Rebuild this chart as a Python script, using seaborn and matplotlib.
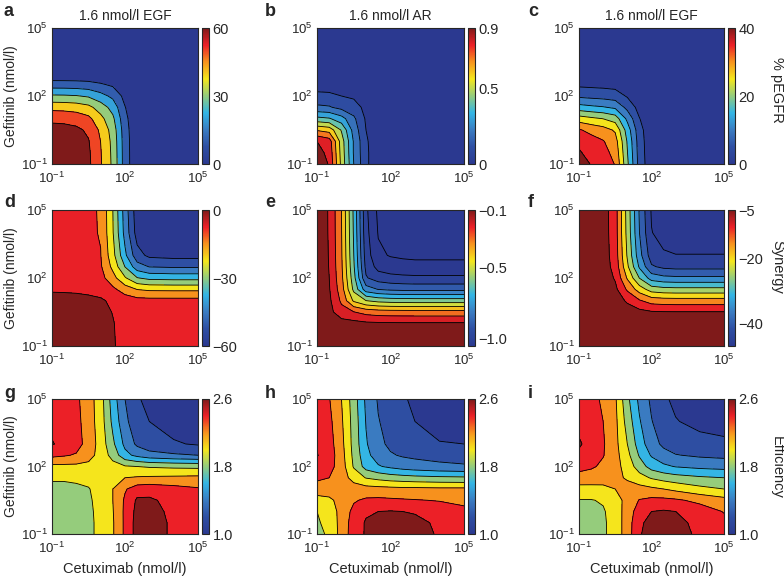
import numpy as np
import matplotlib
matplotlib.use("Agg")
import matplotlib.pyplot as plt
import matplotlib.colors as mcolors
import seaborn as sns

# log10 of the concentrations (nmol/l) at the grid nodes
log_cetuximab = [-1, -0.5, 0, 0.5, 1, 1.5, 2, 2.5, 3, 4, 5]
log_gefitinib = [-1, -0.5, 0, 0.5, 1, 1.5, 2, 2.5, 3, 4, 5]

# values: rows = gefitinib (low -> high), cols = cetuximab (low -> high)
a_pegfr = [
    [68, 67.5, 66, 62, 51, 38, 15, 2, 0, 0, 0],
    [67.5, 67, 65.5, 61.6, 50.6, 37.7, 14.9, 2, 0, 0, 0],
    [66.5, 66, 64.5, 60.6, 49.9, 37.2, 14.7, 2, 0, 0, 0],
    [64, 63.5, 62.1, 58.3, 48, 35.8, 14.1, 1.9, 0, 0, 0],
    [57.5, 57.1, 55.8, 52.5, 43.1, 32.1, 12.7, 1.7, 0, 0, 0],
    [47, 46.6, 45.6, 42.8, 35.2, 26.3, 10.4, 1.4, 0, 0, 0],
    [31.5, 31.3, 30.6, 28.7, 23.6, 17.6, 6.9, 0.9, 0, 0, 0],
    [15, 14.9, 14.6, 13.7, 11.3, 8.4, 3.3, 0.4, 0, 0, 0],
    [1, 1, 1, 0.9, 0.8, 0.6, 0.2, 0, 0, 0, 0],
    [0, 0, 0, 0, 0, 0, 0, 0, 0, 0, 0],
    [0, 0, 0, 0, 0, 0, 0, 0, 0, 0, 0],
]
b_pegfr = [
    [0.98, 0.89, 0.57, 0.30, 0.12, 0.03, 0, 0, 0, 0, 0],
    [0.94, 0.87, 0.56, 0.29, 0.12, 0.03, 0, 0, 0, 0, 0],
    [0.90, 0.85, 0.55, 0.29, 0.115, 0.03, 0, 0, 0, 0, 0],
    [0.69, 0.66, 0.49, 0.26, 0.10, 0.025, 0, 0, 0, 0, 0],
    [0.43, 0.41, 0.34, 0.22, 0.087, 0.02, 0, 0, 0, 0, 0],
    [0.22, 0.21, 0.17, 0.14, 0.074, 0.018, 0, 0, 0, 0, 0],
    [0.13, 0.124, 0.10, 0.085, 0.068, 0.017, 0, 0, 0, 0, 0],
    [0.05, 0.048, 0.04, 0.033, 0.028, 0.016, 0, 0, 0, 0, 0],
    [0.01, 0.01, 0.008, 0.006, 0.005, 0.005, 0, 0, 0, 0, 0],
    [0, 0, 0, 0, 0, 0, 0, 0, 0, 0, 0],
    [0, 0, 0, 0, 0, 0, 0, 0, 0, 0, 0],
]
c_pegfr = [
    [42, 39.8, 38, 34.7, 21, 8, 1.5, 0, 0, 0, 0],
    [40.5, 38.4, 36.6, 33.5, 20.2, 7.7, 1.4, 0, 0, 0, 0],
    [39, 37, 35.3, 32.2, 19.5, 7.4, 1.4, 0, 0, 0, 0],
    [35.5, 33.6, 32.1, 29.3, 17.7, 6.8, 1.3, 0, 0, 0, 0],
    [27.5, 26.1, 24.9, 22.7, 13.8, 5.2, 1, 0, 0, 0, 0],
    [17, 16.1, 15.4, 14.1, 8.5, 3.2, 0.6, 0, 0, 0, 0],
    [9, 8.5, 8.1, 7.4, 4.5, 1.7, 0.3, 0, 0, 0, 0],
    [4, 3.8, 3.6, 3.3, 2, 0.8, 0.1, 0, 0, 0, 0],
    [1, 0.9, 0.9, 0.8, 0.5, 0.2, 0, 0, 0, 0, 0],
    [0, 0, 0, 0, 0, 0, 0, 0, 0, 0, 0],
    [0, 0, 0, 0, 0, 0, 0, 0, 0, 0, 0],
]
d_synergy = [
    [3, 3, 3, 2.8, 2.1, 0.5, -1.8, -3, -3, -3, -3],
    [3, 3, 3, 2.8, 2.1, 0.4, -1.9, -3.2, -3.2, -3.2, -3.2],
    [3, 3, 3, 2.8, 2.1, 0.3, -2.1, -3.4, -3.5, -3.5, -3.5],
    [2.7, 2.7, 2.7, 2.4, 1.7, -0.2, -2.8, -4.4, -4.5, -4.5, -4.5],
    [1.5, 1.5, 1.5, 1.3, 0.7, -1.0, -3.4, -4.8, -5.0, -5.0, -5.0],
    [-0.5, -0.6, -0.8, -1.3, -2.0, -5.9, -11.1, -15.2, -16.3, -16.5, -16.5],
    [-2.4, -2.6, -3.1, -4.1, -4.9, -12.2, -21.6, -29.6, -32.0, -32.5, -32.5],
    [-3, -3.3, -4.1, -5.5, -6.6, -17, -30.2, -41.7, -45.3, -46, -46],
    [-3, -3.4, -4.3, -6.0, -7.3, -19.9, -35.9, -49.8, -54.1, -55, -55],
    [-3, -3.5, -4.5, -6.4, -7.9, -22, -40, -55.7, -60.5, -61.5, -61.5],
    [-3, -3.5, -4.5, -6.5, -8, -22.5, -41, -57, -62, -63, -63],
]
e_synergy = [
    [-0.005, -0.005, -0.006, -0.007, -0.009, -0.009, -0.01, -0.01, -0.01, -0.01, -0.01],
    [-0.016, -0.022, -0.025, -0.030, -0.036, -0.038, -0.039, -0.040, -0.040, -0.040, -0.040],
    [-0.016, -0.049, -0.056, -0.068, -0.082, -0.087, -0.089, -0.090, -0.090, -0.090, -0.090],
    [-0.018, -0.067, -0.163, -0.197, -0.236, -0.252, -0.257, -0.259, -0.260, -0.260, -0.260],
    [-0.022, -0.080, -0.219, -0.417, -0.499, -0.531, -0.543, -0.547, -0.550, -0.550, -0.550],
    [-0.025, -0.093, -0.254, -0.525, -0.754, -0.803, -0.820, -0.827, -0.830, -0.830, -0.830],
    [-0.027, -0.100, -0.273, -0.563, -0.890, -0.948, -0.968, -0.976, -0.980, -0.980, -0.980],
    [-0.028, -0.104, -0.284, -0.587, -0.927, -1.035, -1.057, -1.066, -1.070, -1.070, -1.070],
    [-0.029, -0.106, -0.290, -0.599, -0.947, -1.083, -1.106, -1.115, -1.120, -1.120, -1.120],
    [-0.030, -0.109, -0.296, -0.612, -0.968, -1.106, -1.155, -1.165, -1.170, -1.170, -1.170],
    [-0.030, -0.110, -0.300, -0.620, -0.980, -1.120, -1.170, -1.190, -1.200, -1.200, -1.200],
]
f_synergy = [
    [-0.08, -0.1, -0.12, -0.33, -0.92, -1.49, -1.91, -2.0, -2.02, -2.02, -2.02],
    [-0.09, -0.11, -0.13, -0.36, -1.01, -1.63, -2.09, -2.19, -2.21, -2.21, -2.21],
    [-0.12, -0.13, -0.16, -0.45, -1.28, -2.06, -2.64, -2.76, -2.78, -2.78, -2.78],
    [-0.2, -0.23, -0.28, -0.78, -2.2, -3.55, -4.55, -4.75, -4.8, -4.8, -4.8],
    [-0.53, -0.61, -0.75, -2.08, -5.87, -9.48, -12.15, -12.68, -12.82, -12.82, -12.82],
    [-0.98, -1.13, -1.37, -3.82, -10.78, -17.4, -22.3, -23.28, -23.52, -23.52, -23.52],
    [-1.42, -1.63, -1.98, -5.52, -15.58, -25.13, -32.21, -33.63, -33.98, -33.98, -33.98],
    [-1.73, -1.99, -2.42, -6.75, -19.03, -30.71, -39.36, -41.09, -41.52, -41.52, -41.52],
    [-1.87, -2.15, -2.62, -7.29, -20.57, -33.19, -42.54, -44.41, -44.88, -44.88, -44.88],
    [-1.97, -2.27, -2.76, -7.68, -21.67, -34.97, -44.82, -46.79, -47.28, -47.28, -47.28],
    [-2, -2.3, -2.8, -7.8, -22, -35.5, -45.5, -47.5, -48, -48, -48],
]
g_efficiency = [
    [1.86, 1.87, 1.9, 1.95, 2.06, 2.18, 2.44, 2.68, 2.68, 2.57, 2.5],
    [1.87, 1.88, 1.9, 1.95, 2.06, 2.18, 2.44, 2.68, 2.68, 2.57, 2.5],
    [1.9, 1.9, 1.91, 1.96, 2.06, 2.19, 2.44, 2.66, 2.66, 2.56, 2.5],
    [1.93, 1.93, 1.94, 1.97, 2.07, 2.2, 2.43, 2.63, 2.63, 2.54, 2.48],
    [1.96, 1.96, 1.97, 1.99, 2.07, 2.2, 2.38, 2.5, 2.52, 2.47, 2.42],
    [2.02, 2.02, 2.03, 2.05, 2.1, 2.16, 2.2, 2.22, 2.23, 2.24, 2.25],
    [2.15, 2.15, 2.15, 2.14, 2.12, 2.07, 2.02, 2.0, 1.98, 1.96, 1.95],
    [2.45, 2.42, 2.38, 2.28, 2.12, 1.93, 1.66, 1.55, 1.48, 1.43, 1.4],
    [2.61, 2.56, 2.48, 2.32, 2.12, 1.84, 1.55, 1.36, 1.27, 1.22, 1.18],
    [2.56, 2.52, 2.46, 2.3, 2.1, 1.75, 1.45, 1.27, 1.2, 1.12, 1.08],
    [2.48, 2.47, 2.44, 2.29, 2.09, 1.7, 1.4, 1.22, 1.15, 1.08, 1.04],
]
h_efficiency = [
    [1.95, 2.03, 2.28, 2.5, 2.62, 2.68, 2.7, 2.69, 2.67, 2.58, 2.5],
    [1.98, 2.05, 2.28, 2.49, 2.62, 2.67, 2.69, 2.68, 2.66, 2.56, 2.47],
    [2.0, 2.07, 2.28, 2.45, 2.57, 2.6, 2.61, 2.6, 2.58, 2.5, 2.43],
    [2.14, 2.16, 2.27, 2.38, 2.43, 2.44, 2.43, 2.42, 2.41, 2.39, 2.37],
    [2.28, 2.3, 2.31, 2.3, 2.28, 2.27, 2.26, 2.25, 2.25, 2.24, 2.24],
    [2.45, 2.4, 2.3, 2.12, 1.99, 1.94, 1.9, 1.88, 1.86, 1.84, 1.83],
    [2.55, 2.47, 2.3, 1.98, 1.72, 1.62, 1.56, 1.51, 1.48, 1.44, 1.42],
    [2.61, 2.5, 2.28, 1.95, 1.66, 1.5, 1.42, 1.38, 1.36, 1.34, 1.33],
    [2.58, 2.48, 2.26, 1.93, 1.62, 1.45, 1.36, 1.3, 1.25, 1.21, 1.2],
    [2.55, 2.45, 2.23, 1.92, 1.59, 1.41, 1.33, 1.26, 1.2, 1.13, 1.1],
    [2.5, 2.41, 2.2, 1.9, 1.56, 1.38, 1.3, 1.23, 1.15, 1.08, 1.04],
]
i_efficiency = [
    [1.88, 1.9, 1.97, 2.08, 2.3, 2.58, 2.69, 2.71, 2.68, 2.56, 2.48],
    [1.9, 1.91, 1.97, 2.08, 2.3, 2.56, 2.67, 2.69, 2.66, 2.54, 2.45],
    [1.94, 1.94, 1.98, 2.09, 2.29, 2.5, 2.6, 2.62, 2.6, 2.5, 2.39],
    [1.99, 1.99, 2.02, 2.11, 2.27, 2.41, 2.45, 2.45, 2.43, 2.35, 2.27],
    [2.13, 2.14, 2.16, 2.2, 2.26, 2.27, 2.24, 2.2, 2.15, 2.06, 2.0],
    [2.32, 2.3, 2.27, 2.24, 2.18, 2.08, 1.98, 1.92, 1.88, 1.83, 1.8],
    [2.47, 2.43, 2.36, 2.27, 2.12, 1.9, 1.72, 1.64, 1.59, 1.55, 1.53],
    [2.57, 2.51, 2.41, 2.27, 2.06, 1.78, 1.58, 1.47, 1.41, 1.37, 1.35],
    [2.62, 2.54, 2.42, 2.26, 2.0, 1.7, 1.48, 1.36, 1.3, 1.26, 1.24],
    [2.55, 2.5, 2.4, 2.25, 1.92, 1.62, 1.41, 1.28, 1.21, 1.15, 1.12],
    [2.49, 2.46, 2.37, 2.23, 1.85, 1.55, 1.36, 1.23, 1.16, 1.08, 1.04],
]

# contour levels and colour bar settings of each panel
pegfr_a_levels = [10, 20, 30, 40, 50, 60]
pegfr_b_levels = [0.1, 0.2, 0.3, 0.4, 0.5, 0.6, 0.7, 0.8, 0.9]
pegfr_c_levels = [5, 10, 15, 20, 25, 30, 35, 40]
synergy_d_levels = [-52.5, -45, -37.5, -30, -22.5, -15, -7.5, 0]
synergy_e_levels = [-1.1, -1.0, -0.9, -0.8, -0.7, -0.6, -0.5, -0.4, -0.3, -0.2, -0.1]
synergy_f_levels = [-45, -40, -35, -30, -25, -20, -15, -10, -5]
efficiency_levels = [1.2, 1.4, 1.6, 1.8, 2.0, 2.2, 2.4, 2.6]

titles = ["1.6 nmol/l EGF", "1.6 nmol/l AR", "1.6 nmol/l EGF"]
row_labels = ["% pEGFR", "Synergy", "Efficiency"]
letters = ["a", "b", "c", "d", "e", "f", "g", "h", "i"]

panels = [
    (a_pegfr, pegfr_a_levels, 0, 60, [0, 30, 60], ["0", "30", "60"]),
    (b_pegfr, pegfr_b_levels, 0, 0.9, [0, 0.5, 0.9], ["0", "0.5", "0.9"]),
    (c_pegfr, pegfr_c_levels, 0, 40, [0, 20, 40], ["0", "20", "40"]),
    (d_synergy, synergy_d_levels, -60, 0, [-60, -30, 0], ["\u221260", "\u221230", "0"]),
    (e_synergy, synergy_e_levels, -1.05, -0.1, [-1.0, -0.5, -0.1], ["\u22121.0", "\u22120.5", "\u22120.1"]),
    (f_synergy, synergy_f_levels, -47, -5, [-40, -20, -5], ["\u221240", "\u221220", "\u22125"]),
    (g_efficiency, efficiency_levels, 1.0, 2.6, [1.0, 1.8, 2.6], ["1.0", "1.8", "2.6"]),
    (h_efficiency, efficiency_levels, 1.0, 2.6, [1.0, 1.8, 2.6], ["1.0", "1.8", "2.6"]),
    (i_efficiency, efficiency_levels, 1.0, 2.6, [1.0, 1.8, 2.6], ["1.0", "1.8", "2.6"]),
]

sns.set_style("ticks")
plt.rcParams["font.family"] = ["Liberation Sans", "DejaVu Sans"]
plt.rcParams["mathtext.default"] = "regular"
plt.rcParams["axes.linewidth"] = 0.8

# printed-jet colour map
jet = sns.blend_palette(["#2b3990", "#2e4fa3", "#3a7cc2", "#33b5e5", "#93cc7e",
                         "#f5e71c", "#f7941d", "#ec2027", "#7f1a1a"], as_cmap=True)

W, H = 784, 578
fig = plt.figure(figsize=(W / 100, H / 100), dpi=100)

def px_axes(x, y, w, h):
    # place an axes by its pixel box (top-left origin)
    return fig.add_axes([x / W, 1 - (y + h) / H, w / W, h / H])

col_left = [52, 317, 579]
col_width = [146, 147, 145]
cbar_left = [202, 468, 728]
row_top = [28, 210, 399]
row_height = [136, 136, 135]
letter_x = [4, 265, 528]
letter_y = [12, 203, 393]
row_label_y = [90, 267, 467]

decades = np.arange(-1, 6)
minor = [d + np.log10(k) for d in range(-1, 5) for k in range(2, 10)]
shown = {-1: "$10^{-1}$", 2: "$10^{2}$", 5: "$10^{5}$"}

for n, (z, levels, vmin, vmax, cticks, clabels) in enumerate(panels):
    r, c = divmod(n, 3)
    ax = px_axes(col_left[c], row_top[r], col_width[c], row_height[r])
    cax = px_axes(cbar_left[c], row_top[r], 6.5, row_height[r])

    z = np.array(z, dtype=float)
    norm = mcolors.Normalize(vmin=vmin, vmax=vmax, clip=True)
    bounds = [z.min() - 1] + list(levels) + [z.max() + 1]
    fills = [jet(norm(b)) for b in bounds[:-1]]
    ax.contourf(log_cetuximab, log_gefitinib, z, levels=bounds, colors=fills)
    ax.contour(log_cetuximab, log_gefitinib, z, levels=levels, colors="k",
               linewidths=0.6, linestyles="solid")

    ax.set_xlim(-1, 5)
    ax.set_ylim(-1, 5)
    ax.set_xticks(decades)
    ax.set_yticks(decades)
    ax.set_xticklabels([shown.get(d, "") for d in decades])
    ax.set_yticklabels([shown.get(d, "") for d in decades])
    ax.set_xticks(minor, minor=True)
    ax.set_yticks(minor, minor=True)
    ax.tick_params(which="both", direction="in", top=True, right=True,
                   labelsize=9.5, width=0.6)
    ax.tick_params(which="major", length=3)
    ax.tick_params(which="minor", length=1.5)
    ax.tick_params(axis="x", pad=5)
    ax.tick_params(axis="y", pad=3)

    cb = fig.colorbar(plt.cm.ScalarMappable(norm=norm, cmap=jet), cax=cax)
    cb.set_ticks(cticks, labels=clabels)
    cb.minorticks_on()
    cb.outline.set_linewidth(0.8)
    cax.tick_params(which="both", direction="in", width=0.6)
    cax.tick_params(which="major", length=2, labelsize=10.5, pad=3)
    cax.tick_params(which="minor", length=1.2)

    if r == 0:
        ax.set_title(titles[c], fontsize=10, pad=6)
    if c == 0:
        ax.set_ylabel("Gefitinib (nmol/l)", fontsize=10, labelpad=2)
    if r == 2:
        ax.set_xlabel("Cetuximab (nmol/l)", fontsize=10.5, labelpad=4)

    fig.text(letter_x[c] / W, 1 - letter_y[r] / H, letters[n], fontsize=13,
             fontweight="bold", ha="left", va="center")

for r in range(3):
    fig.text(777 / W, 1 - row_label_y[r] / H, row_labels[r], fontsize=10.5,
             rotation=270, ha="center", va="center")

fig.savefig("out.png", dpi=100)
